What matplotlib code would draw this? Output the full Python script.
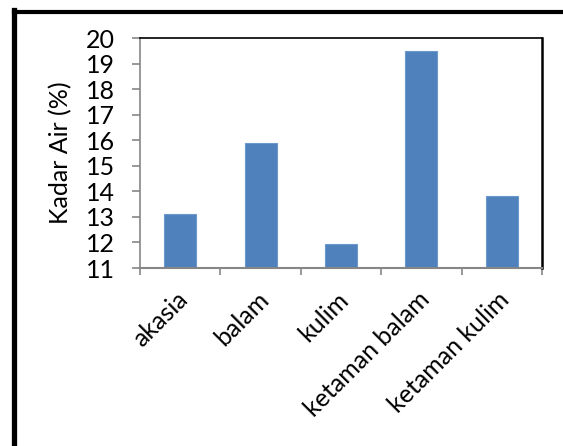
import matplotlib
matplotlib.use("Agg")
import matplotlib.pyplot as plt
import matplotlib.transforms as mtransforms
from matplotlib.lines import Line2D
import numpy as np

categories = ["akasia", "balam", "kulim", "ketaman balam", "ketaman kulim"]
kadar_air = [13.1, 15.9, 11.95, 19.5, 13.8]
y_ticks = [11, 12, 13, 14, 15, 16, 17, 18, 19, 20]

plt.rcParams["font.family"] = ["Lato", "DejaVu Sans"]
FS = 18

fig = plt.figure(figsize=(5.63, 4.46), dpi=100)
ax = fig.add_axes([140 / 563, 1 - 268 / 446, 402 / 563, 230 / 446])

x = np.arange(len(categories))
ax.bar(x, np.array(kadar_air) - 11, bottom=11, width=0.4,
       color="#4F81BD", edgecolor="#6C98CC", linewidth=0.8, zorder=2)

ax.set_xlim(-0.5, len(categories) - 0.5)
ax.set_ylim(11, 20)
ax.set_yticks(y_ticks)
ax.set_yticklabels([str(v) for v in y_ticks], fontsize=FS)

ax.set_xticks(x)
ax.set_xticklabels(categories, fontsize=FS, rotation=45, ha="right",
                   va="center", rotation_mode="anchor")
ax.tick_params(axis="x", length=0, pad=20)
shift = mtransforms.ScaledTranslation(4 / 100, 0, fig.dpi_scale_trans)
for lbl in ax.get_xticklabels():
    lbl.set_transform(lbl.get_transform() + shift)
ax.set_xticks(np.arange(-0.5, len(categories), 1.0), minor=True)
ax.tick_params(axis="x", which="minor", length=5, width=1.2, color="#868686")
ax.tick_params(axis="y", length=6, width=1.2, color="#868686", pad=12)

ax.spines["left"].set_color("#868686")
ax.spines["bottom"].set_color("#868686")
ax.spines["left"].set_linewidth(1.2)
ax.spines["bottom"].set_linewidth(1.5)
ax.spines["top"].set_color("black")
ax.spines["right"].set_color("black")
ax.spines["top"].set_linewidth(1.2)
ax.spines["right"].set_linewidth(1.8)

ax.set_ylabel("Kadar Air (%)", fontsize=FS, labelpad=10)

# thick outer frame of the chart area
fig.add_artist(Line2D([13.5 / 563, 13.5 / 563], [0, 1 - 10 / 446],
                      transform=fig.transFigure, color="black", linewidth=3.8,
                      solid_capstyle="projecting"))
fig.add_artist(Line2D([13.5 / 563, 1], [1 - 12 / 446, 1 - 12 / 446],
                      transform=fig.transFigure, color="black", linewidth=3.0,
                      solid_capstyle="projecting"))

fig.savefig("out.png", dpi=100)
